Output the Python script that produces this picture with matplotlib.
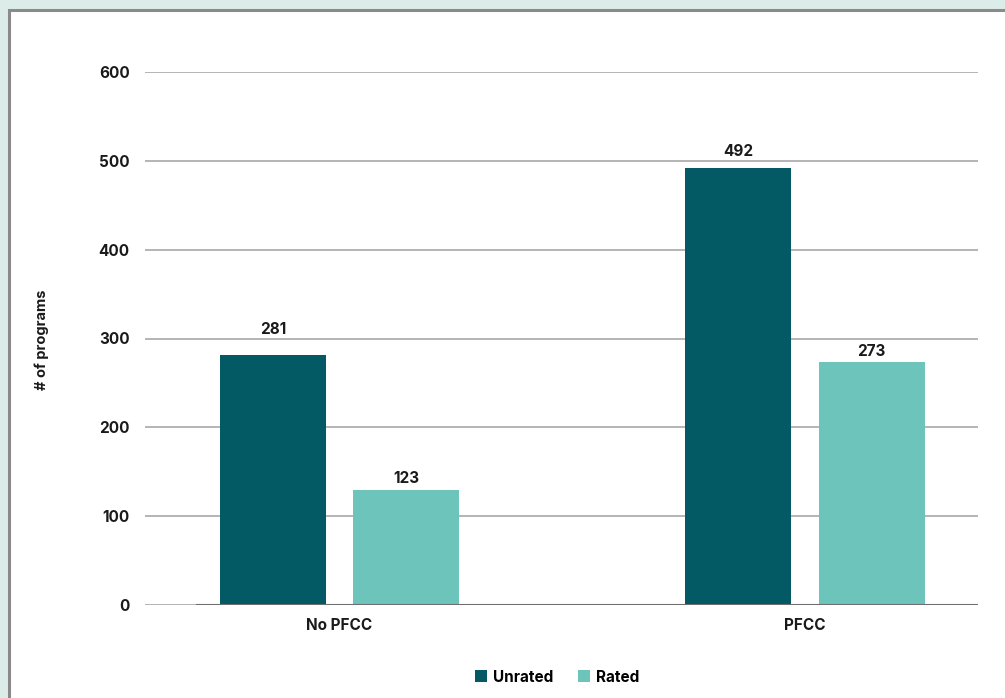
import numpy as np
import matplotlib
matplotlib.use("Agg")
import matplotlib.pyplot as plt
from matplotlib.patches import Rectangle

plt.rcParams['font.family'] = ['Inter', 'DejaVu Sans']

categories = ["No PFCC", "PFCC"]
unrated = [281, 492]
rated = [130, 273]
unrated_labels = ["281", "492"]
rated_labels = ["123", "273"]
yticks = [0, 100, 200, 300, 400, 500, 600]

dark = "#035a64"
light = "#6dc4bb"
txt = "#1a1a1a"
fs = 11

fig = plt.figure(figsize=(10.05, 6.98), dpi=100)
fig.patch.set_facecolor("#dcede9")
panel = Rectangle((8.5 / 1005, -0.05), 1.1, 0.985 + 0.05, transform=fig.transFigure,
                  facecolor="white", edgecolor="#8a8a8a", linewidth=2.2, zorder=0)
fig.patches.append(panel)

ax = fig.add_axes([145 / 1005, 93 / 698, 833 / 1005, 533 / 698])
ax.set_zorder(2)
ax.set_facecolor("none")

x = np.arange(len(categories))
w = 0.2277
off = 0.1429
b1 = ax.bar(x - off, unrated, w, color=dark, label="Unrated", zorder=3)
b2 = ax.bar(x + off, rated, w, color=light, label="Rated", zorder=3)

# label gaps above bar tops (pixels), as in the original
for bars, labs, gaps in [(b1, unrated_labels, [26, 16]), (b2, rated_labels, [11, 11])]:
    for bar, lab, g in zip(bars, labs, gaps):
        ax.annotate(lab, (bar.get_x() + bar.get_width() / 2, bar.get_height()),
                    xytext=(0, g), textcoords="offset pixels", ha="center", va="center",
                    fontsize=fs, fontweight="bold", color=txt)

ax.set_ylim(0, 600)
ax.set_xlim(-0.4178, 1.3716)
ax.set_yticks(yticks)
ax.set_yticklabels([str(t) for t in yticks], fontsize=fs, fontweight="bold", color=txt)
ax.set_xticks(x)
ax.set_xticklabels(categories, fontsize=fs, fontweight="bold", color=txt)
ax.tick_params(length=0)
ax.tick_params(axis="y", pad=11)
ax.tick_params(axis="x", pad=9)
ax.grid(axis="y", color="#a0a0a0", linewidth=1.1, zorder=1)
ax.set_axisbelow(True)
for s in ax.spines.values():
    s.set_visible(False)
ax.axhline(0, xmin=(197 - 145) / 833, xmax=1, color="#6e6e6e", linewidth=1.5, zorder=4)

fig.text(42 / 1005, 1 - 340 / 698, "# of programs", rotation=90, ha="center", va="center",
         fontsize=10.5, fontweight="bold", color=txt)

fig.legend(handles=[b1, b2], labels=["Unrated", "Rated"], loc="center",
           bbox_to_anchor=(557 / 1005, 1 - 677 / 698), ncol=2, frameon=False,
           prop={"size": fs, "weight": "bold"}, handlelength=0.8, handleheight=0.8,
           handletextpad=0.4, columnspacing=1.6)

fig.savefig("out.png", dpi=100, facecolor=fig.get_facecolor())
